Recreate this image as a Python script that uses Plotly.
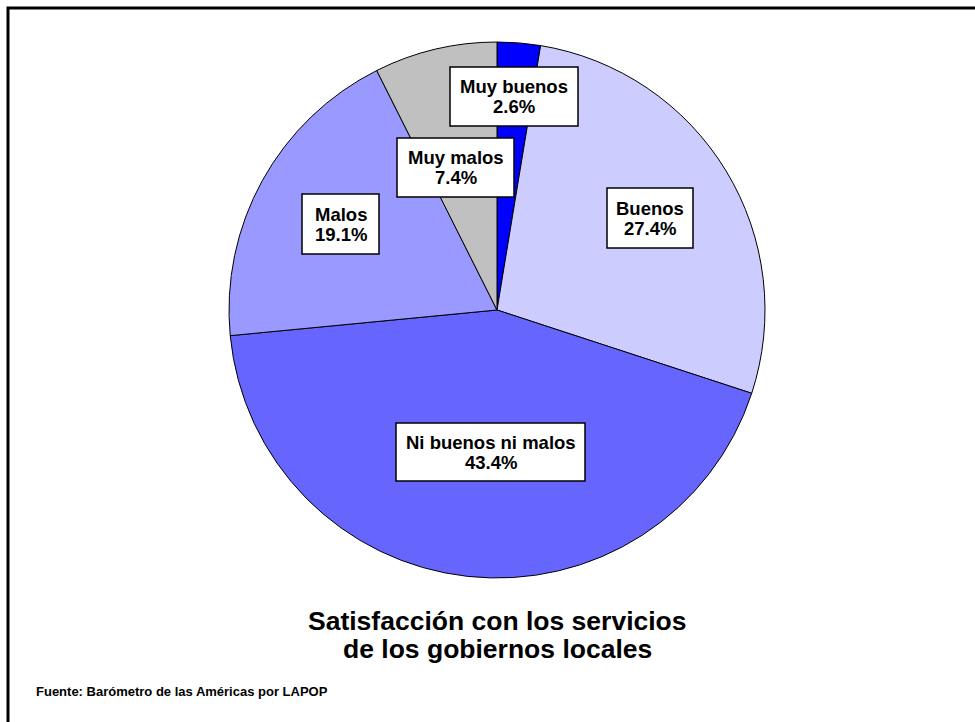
import plotly.graph_objects as go

categories = ["Muy buenos", "Buenos", "Ni buenos ni malos", "Malos", "Muy malos"]
values = [2.6, 27.4, 43.4, 19.1, 7.4]
colors = ["#0000FF", "#CCCCFF", "#6666FF", "#9999FF", "#C0C0C0"]

# label box extents in pixels: (x0, x1, y0, y1)
label_boxes = [(450, 578, 67, 126), (607, 693, 188, 248), (396, 585, 423, 481),
               (302, 379, 194, 254), (397, 514, 138, 197)]

W, H = 975, 722
FONT = "Liberation Sans, Arial, sans-serif"


def px(x):
    return x / W


def py(y):
    return 1 - y / H


fig = go.Figure(go.Pie(
    labels=categories, values=values, sort=False, direction="clockwise",
    rotation=0, marker=dict(colors=colors, line=dict(color="black", width=1)),
    textinfo="none", hoverinfo="label+percent", showlegend=False,
    domain=dict(x=[px(229), px(765)], y=[py(578), py(42)]),
))

shapes = [dict(type="rect", xref="paper", yref="paper",
               x0=px(8), x1=1.05, y0=-0.05, y1=py(8),
               line=dict(color="black", width=3))]
annotations = []
for cat, val, (x0, x1, y0, y1) in zip(categories, values, label_boxes):
    shapes.append(dict(type="rect", xref="paper", yref="paper",
                       x0=px(x0), x1=px(x1), y0=py(y1), y1=py(y0),
                       fillcolor="white", line=dict(color="black", width=1.5)))
    cx = (x0 + x1) / 2
    cy = (y0 + y1) / 2
    for txt, dy in ((cat, -10), (f"{val:.1f}%", 10)):
        annotations.append(dict(
            x=px(cx), y=py(cy + dy), xref="paper", yref="paper",
            text=f"<b>{txt}</b>", showarrow=False,
            font=dict(family=FONT, size=18.5, color="black"),
            xanchor="center", yanchor="middle",
        ))

title_lines = ["Satisfacción con los servicios", "de los gobiernos locales"]
for txt, yy in zip(title_lines, (620.5, 649)):
    annotations.append(dict(
        x=px(497), y=py(yy), xref="paper", yref="paper",
        text=f"<b>{txt}</b>", showarrow=False,
        font=dict(family=FONT, size=26.5, color="black"),
        xanchor="center", yanchor="middle",
    ))

annotations.append(dict(
    x=px(34), y=py(691), xref="paper", yref="paper",
    text="<b>Fuente: Barómetro de las Américas por LAPOP</b>",
    showarrow=False, font=dict(family=FONT, size=13, color="black"),
    xanchor="left", yanchor="middle",
))

fig.update_layout(
    width=W, height=H, margin=dict(l=0, r=0, t=0, b=0),
    paper_bgcolor="white", plot_bgcolor="white",
    annotations=annotations, shapes=shapes,
)

fig.write_html("out.html", config={"displayModeBar": False},
               post_script="document.body.style.margin='0';document.body.style.overflow='hidden';")
